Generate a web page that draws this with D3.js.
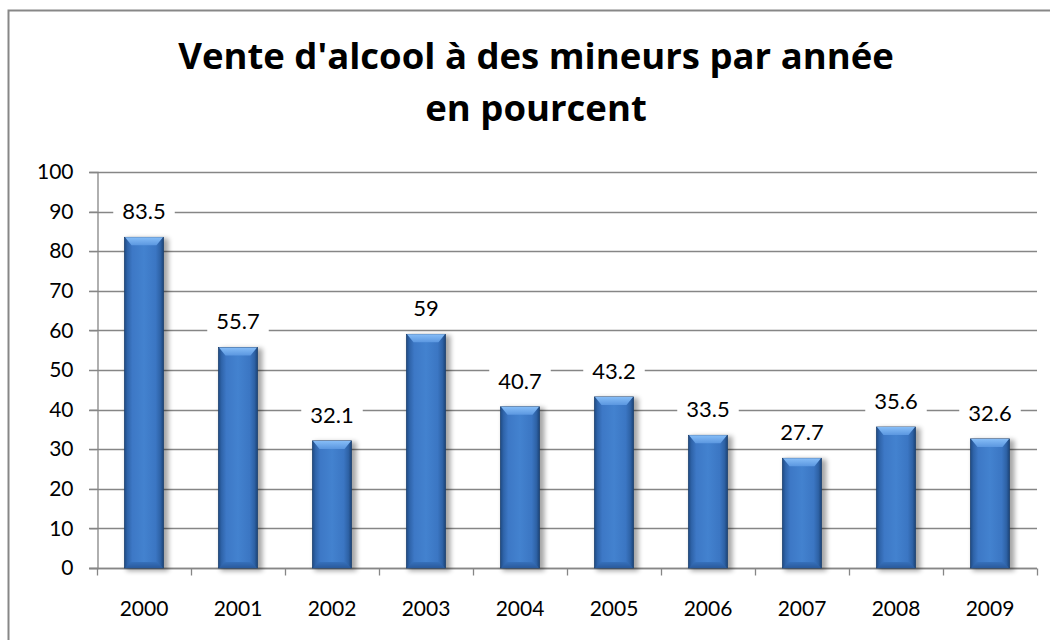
<!DOCTYPE html>
<html>
<head>
<meta charset="utf-8">
<script src="https://cdn.jsdelivr.net/npm/d3@7"></script>
<style>
  body { margin: 0; background: #fff; }
  svg { display: block; }
  text { font-family: Lato, "Open Sans", sans-serif; fill: #000; }
</style>
</head>
<body>
<svg id="chart"></svg>
<script>
// Data
const years = ["2000", "2001", "2002", "2003", "2004", "2005", "2006", "2007", "2008", "2009"];
const values = [83.5, 55.7, 32.1, 59, 40.7, 43.2, 33.5, 27.7, 35.6, 32.6];
const yTicks = [0, 10, 20, 30, 40, 50, 60, 70, 80, 90, 100];
const titleLines = ["Vente d'alcool à des mineurs par année", "en pourcent"];

const width = 1050, height = 640;
const plot = { left: 97, right: 1037, top: 172, bottom: 568 };

const svg = d3.select("#chart")
    .attr("width", width)
    .attr("height", height);

// Gradients
const defs = svg.append("defs");
const body = defs.append("linearGradient").attr("id", "barBody")
    .attr("x1", 0).attr("x2", 1).attr("y1", 0).attr("y2", 0);
[[0, "#1f4b85"], [0.08, "#2f64aa"], [0.2, "#3d78c6"], [0.5, "#4382cf"], [0.8, "#3b76c3"], [0.92, "#2e62a6"], [1, "#1c4478"]]
    .forEach(([o, c]) => body.append("stop").attr("offset", o).attr("stop-color", c));

const bevel = defs.append("linearGradient").attr("id", "barTop")
    .attr("x1", 0).attr("x2", 0).attr("y1", 0).attr("y2", 1);
[[0, "#86bdf7"], [1, "#5b97e0"]]
    .forEach(([o, c]) => bevel.append("stop").attr("offset", o).attr("stop-color", c));

const base = defs.append("linearGradient").attr("id", "barBase")
    .attr("x1", 0).attr("x2", 0).attr("y1", 0).attr("y2", 1);
[[0, "#3670bb"], [1, "#2a5a9c"]]
    .forEach(([o, c]) => base.append("stop").attr("offset", o).attr("stop-color", c));

defs.append("filter").attr("id", "shadow")
    .attr("x", "-50%").attr("y", "-10%").attr("width", "200%").attr("height", "120%")
    .append("feGaussianBlur").attr("stdDeviation", 2.5);

// Chart border (top and left visible)
svg.append("path")
    .attr("d", `M8.5,${height} V10.5 H${width}`)
    .attr("fill", "none")
    .attr("stroke", "#878787")
    .attr("stroke-width", 2);

// Title
svg.append("text")
    .attr("x", 536)
    .attr("text-anchor", "middle")
    .style("font-family", "'Open Sans', sans-serif")
    .style("font-weight", "bold")
    .style("font-size", "36.5px")
    .selectAll("tspan")
    .data(titleLines)
    .join("tspan")
    .attr("x", 536)
    .attr("y", (d, i) => 69 + i * 52)
    .text(d => d);

// Scales
const x = d3.scaleBand()
    .domain(years)
    .range([plot.left, plot.right])
    .padding(0);

const y = d3.scaleLinear()
    .domain([0, 100])
    .range([plot.bottom, plot.top]);

const barW = x.bandwidth() * 0.415;

// Gridlines
svg.append("g")
    .selectAll("line")
    .data(yTicks)
    .join("line")
    .attr("x1", plot.left - 8)
    .attr("x2", plot.right)
    .attr("y1", d => Math.round(y(d)) + 0.5)
    .attr("y2", d => Math.round(y(d)) + 0.5)
    .attr("stroke", "#868686")
    .attr("stroke-width", 1.3);

// Y axis
const yAxis = svg.append("g")
    .attr("transform", `translate(${plot.left + 0.5},0)`)
    .call(d3.axisLeft(y).tickValues(yTicks).tickSize(8).tickPadding(16));
yAxis.select(".domain").attr("stroke", "#868686").attr("stroke-width", 1.3);
yAxis.selectAll(".tick line").attr("stroke", "#868686");
yAxis.selectAll("text").style("font-size", "21px").style("font-family", "Lato, sans-serif").attr("fill", "#000");

// X axis with ticks at category boundaries
const xAxis = svg.append("g")
    .attr("transform", `translate(0,${Math.round(plot.bottom) + 0.5})`);
xAxis.append("line")
    .attr("x1", plot.left - 8).attr("x2", plot.right)
    .attr("stroke", "#868686").attr("stroke-width", 1.3);
xAxis.selectAll("line.tick")
    .data(years.concat(["end"]))
    .join("line")
    .attr("class", "tick")
    .attr("x1", (d, i) => Math.round(plot.left + i * x.step()) + 0.5)
    .attr("x2", (d, i) => Math.round(plot.left + i * x.step()) + 0.5)
    .attr("y1", 0).attr("y2", 7)
    .attr("stroke", "#868686").attr("stroke-width", 1.3);
xAxis.selectAll("text")
    .data(years)
    .join("text")
    .attr("x", d => x(d) + x.bandwidth() / 2)
    .attr("y", 47)
    .attr("text-anchor", "middle")
    .style("font-size", "21px")
    .text(d => d);

// Bars
const bars = svg.append("g")
    .selectAll("g")
    .data(values)
    .join("g")
    .attr("transform", (d, i) => `translate(${x(years[i]) + (x.bandwidth() - barW) / 2},0)`);

bars.append("rect")
    .attr("x", 2).attr("y", d => y(d) + 1)
    .attr("width", barW + 3)
    .attr("height", d => y(0) - y(d) + 2)
    .attr("fill", "#000")
    .attr("opacity", 0.35)
    .attr("filter", "url(#shadow)");

bars.append("rect")
    .attr("x", 0).attr("y", d => y(d))
    .attr("width", barW)
    .attr("height", d => y(0) - y(d))
    .attr("fill", "url(#barBody)")
    .attr("stroke", "#1d4272")
    .attr("stroke-width", 0.8);

bars.append("path")
    .attr("d", d => {
        const t = y(d);
        return `M0.5,${t} H${barW - 0.5} L${barW - 7},${t + 8} H7 Z`;
    })
    .attr("fill", "url(#barTop)");

bars.append("path")
    .attr("d", () => {
        const b = y(0);
        return `M0.5,${b} H${barW - 0.5} L${barW - 6},${b - 6} H6 Z`;
    })
    .attr("fill", "url(#barBase)");

// Value labels with white background
const labels = bars.append("g")
    .attr("transform", d => `translate(${barW / 2},${y(d) - 18})`);

labels.append("text")
    .attr("text-anchor", "middle")
    .style("font-size", "22px")
    .text(d => String(d))
    .each(function () {
        const w = this.getComputedTextLength();
        d3.select(this.parentNode).insert("rect", "text")
            .attr("x", -w / 2 - 9)
            .attr("y", -23)
            .attr("width", w + 18)
            .attr("height", 29)
            .attr("fill", "#fff");
    });
</script>
</body>
</html>
